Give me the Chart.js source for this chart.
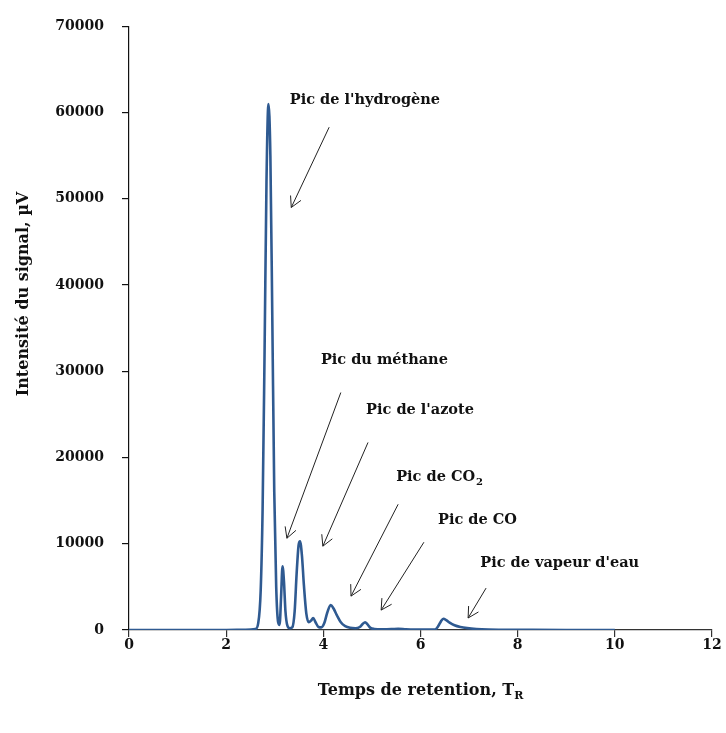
<!DOCTYPE html>
<html>
<head>
<meta charset="utf-8">
<script src="https://cdn.jsdelivr.net/npm/chart.js@4.4.1/dist/chart.umd.min.js"></script>
<style>
  html, body { margin: 0; padding: 0; background: #fff; }
  #wrap { width: 726px; height: 733px; }
</style>
</head>
<body>
<div id="wrap"><canvas id="chart-chromato" width="726" height="733"></canvas></div>
<script>
const retentionTime = [0, 1, 2, 2.4, 2.6, 2.66, 2.71, 2.75, 2.79, 2.83, 2.87, 2.91, 2.95, 2.99, 3.03,
  3.07, 3.1, 3.13, 3.16, 3.19, 3.22, 3.26, 3.31, 3.36, 3.41, 3.45, 3.49, 3.52, 3.56, 3.6,
  3.65, 3.7, 3.75, 3.79, 3.84, 3.9, 3.96, 4.02, 4.08, 4.15, 4.21, 4.28, 4.36, 4.45, 4.55,
  4.66, 4.75, 4.81, 4.86, 4.91, 4.97, 5.05, 5.2, 5.4, 5.54, 5.7, 5.9, 6.1, 6.3, 6.36,
  6.42, 6.47, 6.53, 6.6, 6.7, 6.82, 6.96, 7.15, 7.4, 7.8, 8.3, 9, 10];
const signal = [0, 0, 0, 30, 100, 800, 4500, 14000, 32000, 52000, 61000, 55000, 36000, 16000, 5000,
  900, 600, 3800, 7400, 5600, 2200, 500, 200, 300, 2200, 6500, 9800, 10300, 8600, 5200,
  1900, 900, 1100, 1400, 900, 350, 300, 800, 2000, 2900, 2500, 1700, 900, 450, 250,
  200, 350, 700, 900, 650, 250, 120, 80, 100, 150, 90, 50, 40, 60, 400,
  1000, 1300, 1150, 850, 550, 350, 220, 120, 60, 30, 10, 0, 0];

const xTicks = [0, 2, 4, 6, 8, 10, 12];
const yTicks = [0, 10000, 20000, 30000, 40000, 50000, 60000, 70000];

// annotations : texte, indice, position du texte et fleche (en unites des axes)
const peakNames = ["Pic de l'hydrogène", "Pic du méthane", "Pic de l'azote", "Pic de CO", "Pic de CO", "Pic de vapeur d'eau"];
const peakSubs = ['', '', '', '2', '', ''];
const labelX = [3.31, 3.95, 4.88, 5.50, 6.36, 7.23];
const labelY = [61440, 31240, 25450, 17700, 12730, 7750];
const arrowFromX = [4.12, 4.36, 4.92, 5.54, 6.07, 7.35];
const arrowFromY = [58310, 27540, 21750, 14580, 10180, 4860];
const arrowToX = [3.34, 3.25, 3.99, 4.57, 5.19, 6.98];
const arrowToY = [49000, 10640, 9720, 3930, 2310, 1390];

const serif = "'DejaVu Serif', 'Liberation Serif', serif";

const annotPlugin = {
  id: 'annot',
  afterDraw(chart) {
    const ctx = chart.ctx;
    const xs = chart.scales.x, ys = chart.scales.y;
    ctx.save();
    // fleches
    ctx.strokeStyle = '#222';
    ctx.lineWidth = 1;
    for (let i = 0; i < peakNames.length; i++) {
      const x1 = xs.getPixelForValue(arrowFromX[i]), y1 = ys.getPixelForValue(arrowFromY[i]);
      const x2 = xs.getPixelForValue(arrowToX[i]), y2 = ys.getPixelForValue(arrowToY[i]);
      const a = Math.atan2(y2 - y1, x2 - x1);
      ctx.beginPath();
      ctx.moveTo(x1, y1);
      ctx.lineTo(x2, y2);
      ctx.moveTo(x2 - 12 * Math.cos(a - 0.5), y2 - 12 * Math.sin(a - 0.5));
      ctx.lineTo(x2, y2);
      ctx.lineTo(x2 - 12 * Math.cos(a + 0.5), y2 - 12 * Math.sin(a + 0.5));
      ctx.stroke();
    }
    // textes
    ctx.fillStyle = '#111';
    ctx.textBaseline = 'middle';
    ctx.textAlign = 'left';
    for (let i = 0; i < peakNames.length; i++) {
      const x = xs.getPixelForValue(labelX[i]), y = ys.getPixelForValue(labelY[i]);
      ctx.font = 'bold 14.5px ' + serif;
      ctx.fillText(peakNames[i], x, y);
      if (peakSubs[i]) {
        const w = ctx.measureText(peakNames[i]).width;
        ctx.font = 'bold 10px ' + serif;
        ctx.fillText(peakSubs[i], x + w + 1, y + 5);
      }
    }
    // titre de l'axe x avec indice
    const main = 'Temps de retention, T';
    ctx.font = 'bold 16px ' + serif;
    const wMain = ctx.measureText(main).width;
    ctx.font = 'bold 11px ' + serif;
    const wSub = ctx.measureText('R').width;
    const cx = (chart.chartArea.left + chart.chartArea.right) / 2;
    const tx = cx - (wMain + wSub) / 2;
    const ty = 691;
    ctx.font = 'bold 16px ' + serif;
    ctx.fillText(main, tx, ty);
    ctx.font = 'bold 11px ' + serif;
    ctx.fillText('R', tx + wMain, ty + 5);
    // titre de l'axe y
    ctx.translate(24, 294);
    ctx.rotate(-Math.PI / 2);
    ctx.textAlign = 'center';
    ctx.font = 'bold 16px ' + serif;
    ctx.fillText('Intensité du signal, µV', 0, 0);
    ctx.restore();
  }
};

const chartChromato = document.getElementById('chart-chromato');
const points = retentionTime.map((t, i) => ({ x: t, y: signal[i] }));

const config = {
  type: 'line',
  data: {
    datasets: [{
      label: 'Intensité',
      data: points,
      borderColor: '#2f5a91',
      borderWidth: 2.6,
      pointRadius: 0,
      fill: false,
      cubicInterpolationMode: 'monotone'
    }]
  },
  options: {
    responsive: false,
    animation: false,
    layout: { padding: { top: 25, right: 0, left: 0, bottom: 0 } },
    plugins: { legend: { display: false }, tooltip: { enabled: false } },
    scales: {
      x: {
        type: 'linear',
        min: 0,
        max: 12,
        afterFit: (s) => { s.height = 103; s.paddingRight = 14; },
        afterBuildTicks: (s) => { s.ticks = xTicks.map(v => ({ value: v })); },
        border: { color: '#333', width: 1.2 },
        grid: { drawOnChartArea: false, drawTicks: true, tickLength: 7, color: '#333', lineWidth: 1.2 },
        ticks: { padding: 0, color: '#111', font: { family: serif, size: 14, weight: 'bold' }, callback: (v) => String(v) }
      },
      y: {
        min: 0,
        max: 70000,
        afterFit: (s) => { s.width = 129; },
        afterBuildTicks: (s) => { s.ticks = yTicks.map(v => ({ value: v })); },
        border: { color: '#111', width: 1.2 },
        grid: { drawOnChartArea: false, drawTicks: true, tickLength: 7, color: '#111', lineWidth: 1.2 },
        ticks: { padding: 18, color: '#111', font: { family: serif, size: 14, weight: 'bold' }, callback: (v) => String(v) }
      }
    }
  },
  plugins: [annotPlugin]
};
new Chart(chartChromato, config);
</script>
</body>
</html>
